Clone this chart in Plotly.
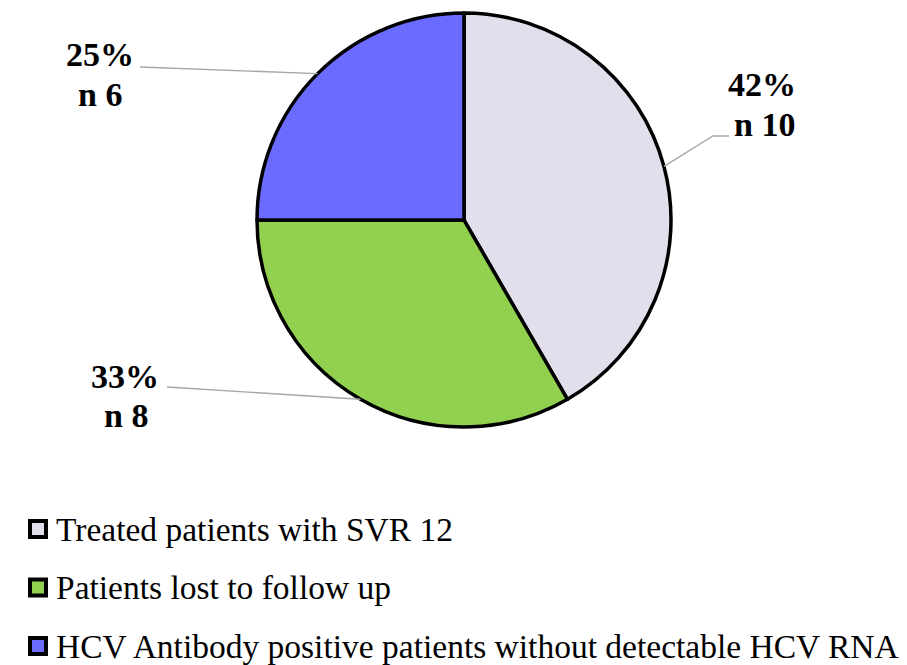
import math
import plotly.graph_objects as go

# ---- data ----
categories = [
    "Treated patients with SVR 12",
    "Patients lost to follow up",
    "HCV Antibody positive patients without detectable HCV RNA",
]
counts = [10, 8, 6]
colors = ["#E3DEEC", "#92D050", "#6B6BFF"]

# ---- layout geometry (pixels in the 907x665 window; page body has an 8px margin) ----
BODY = 8
W, H = 907 - BODY, 665 - BODY
CX, CY, R = 464.0, 220.0, 207.0
# label line centres (percent line, n line) and leader-line ends, per slice
pct_pos = [(762, 84), (125, 376), (100, 55)]
n_pos = [(764, 124), (126, 415), (100, 94)]
line_end = [[(713, 136), (729, 136)], [(167, 387)], [(140, 67)]]
legend_x, legend_y0, legend_dy = 38, 529, 58.5

FONT = "Liberation Serif"


def px(x):
    return (x - BODY) / W


def py(y):
    return 1 - (y - BODY) / H


fig = go.Figure()
fig.add_trace(go.Pie(
    labels=categories,
    values=counts,
    sort=False,
    direction="clockwise",
    rotation=0,
    marker=dict(colors=colors, line=dict(color="black", width=3.5)),
    textinfo="none",
    hoverinfo="label+value+percent",
    showlegend=False,
    domain=dict(x=[px(CX - R), px(CX + R)], y=[py(CY + R), py(CY - R)]),
))

total = sum(counts)
annotations = []
shapes = []
start = 0.0
for i, c in enumerate(counts):
    frac = c / total
    mid = (start + frac / 2) * 2 * math.pi
    start += frac
    ex = CX + R * math.sin(mid)
    ey = CY - R * math.cos(mid)
    pct = round(100 * frac)
    for (lx, ly), txt in ((pct_pos[i], f"<b>{pct}%</b>"), (n_pos[i], f"<b>n {c}</b>")):
        annotations.append(dict(
            x=px(lx), y=py(ly), xref="paper", yref="paper",
            text=txt, showarrow=False,
            align="center", xanchor="center", yanchor="middle",
            font=dict(family=FONT, size=34, color="black"),
        ))
    pts = [(ex, ey)] + line_end[i]
    path = "M " + " L ".join(f"{px(x)},{py(y)}" for x, y in pts)
    shapes.append(dict(type="path", path=path, xref="paper", yref="paper",
                       line=dict(color="#A6A6A6", width=1.3)))

# legend (drawn as layout items)
for i, (name, col) in enumerate(zip(categories, colors)):
    yc = legend_y0 + i * legend_dy
    shapes.append(dict(type="rect", xref="paper", yref="paper",
                       x0=px(legend_x - 8), x1=px(legend_x + 8),
                       y0=py(yc + 8), y1=py(yc - 8),
                       fillcolor=col, line=dict(color="black", width=4)))
    annotations.append(dict(
        x=px(54), y=py(yc), xref="paper", yref="paper",
        text=name, showarrow=False, xanchor="left", yanchor="middle",
        font=dict(family=FONT, size=33.5, color="black"),
    ))

fig.update_layout(
    width=W, height=H,
    margin=dict(l=0, r=0, t=0, b=0),
    paper_bgcolor="white", plot_bgcolor="white",
    annotations=annotations, shapes=shapes,
    showlegend=False,
)

fig.write_html("out.html")
